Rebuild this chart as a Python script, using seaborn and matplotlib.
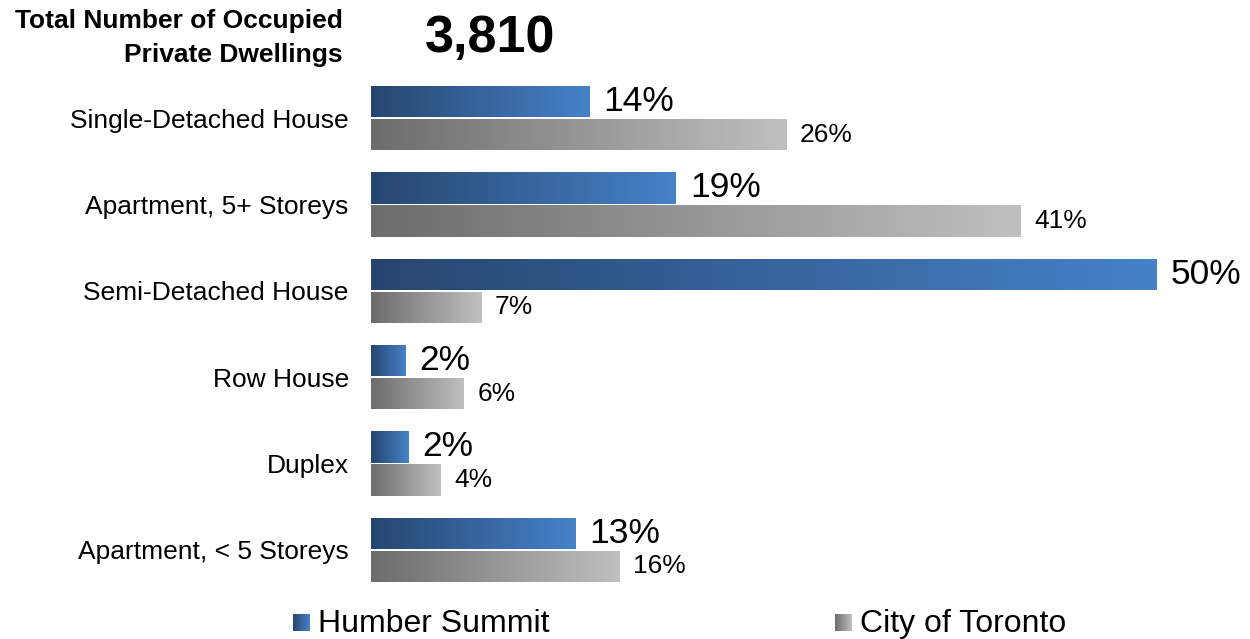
import numpy as np
import pandas as pd
import matplotlib
matplotlib.use("Agg")
import matplotlib.pyplot as plt
from matplotlib.colors import LinearSegmentedColormap
import seaborn as sns

categories = ["Single-Detached House", "Apartment, 5+ Storeys", "Semi-Detached House",
              "Row House", "Duplex", "Apartment, < 5 Storeys"]
humber_values = [13.9, 19.4, 50.0, 2.2, 2.4, 13.0]
toronto_values = [26.4, 41.3, 7.0, 5.9, 4.4, 15.8]
series_names = ["Humber Summit", "City of Toronto"]
title_text = "Total Number of Occupied\nPrivate Dwellings"
total_text = "3,810"

df = pd.DataFrame({
    "category": categories * 2,
    "region": [series_names[0]] * len(categories) + [series_names[1]] * len(categories),
    "value": humber_values + toronto_values,
})

sns.set_theme(style="white")
plt.rcParams["font.family"] = ["Liberation Sans", "DejaVu Sans"]
plt.rcParams["text.color"] = "black"
plt.rcParams["ytick.color"] = "black"
plt.rcParams["axes.labelcolor"] = "black"

blue_cmap = LinearSegmentedColormap.from_list("b", ["#26466F", "#4682C8"])
gray_cmap = LinearSegmentedColormap.from_list("g", ["#6C6C6C", "#C0C0C0"])
palette = {series_names[0]: "#3A66A0", series_names[1]: "#999999"}

fig = plt.figure(figsize=(12.5, 6.39), dpi=100)
ax = fig.add_axes([371 / 1250, (639 - 593) / 639, 786 / 1250, 518 / 639])

sns.barplot(data=df, y="category", x="value", hue="region", hue_order=series_names,
            order=categories, palette=palette, orient="h", width=0.765, gap=0.06,
            legend=False, ax=ax)

ax.set_xlim(0, 50)
ax.set_ylim(5.5, -0.5)
grad = np.linspace(0, 1, 256).reshape(1, -1)
for i, cont in enumerate(ax.containers):
    cmap = blue_cmap if i == 0 else gray_cmap
    for p in cont.patches:
        x, y = p.get_x(), p.get_y()
        w, h = p.get_width(), p.get_height()
        im = ax.imshow(grad, cmap=cmap, aspect="auto", extent=[x, x + w, y + h, y],
                       interpolation="bicubic", zorder=2)
        im.set_clip_path(p)
        p.set_facecolor("none")
        p.set_edgecolor("none")
ax.set_xlim(0, 50)
ax.set_ylim(5.5, -0.5)

ax.bar_label(ax.containers[0], labels=[f"{v:.0f}%" for v in humber_values],
             padding=10, fontsize=25.5, color="black", clip_on=False)
ax.bar_label(ax.containers[1], labels=[f"{v:.0f}%" for v in toronto_values],
             padding=10, fontsize=19, color="black", clip_on=False)

ax.set_xlabel("")
ax.set_ylabel("")
ax.set_xticks([])
ax.tick_params(axis="y", length=0, pad=16, labelsize=19, labelcolor="black")
for s in ax.spines.values():
    s.set_visible(False)

fig.text(343 / 1250, 1 - 38 / 639, title_text, ha="right", va="center",
         fontsize=19, fontweight="bold", linespacing=1.5, color="black")
fig.text(490 / 1250, 1 - 38 / 639, total_text, ha="center", va="center",
         fontsize=37.5, fontweight="bold", color="black")

# legend
legend_items = [(293, series_names[0], blue_cmap), (835, series_names[1], gray_cmap)]
for xpx, name, cmap in legend_items:
    sax = fig.add_axes([xpx / 1250, (639 - 631) / 639, 17 / 1250, 17 / 639])
    sax.imshow(grad, cmap=cmap, aspect="auto", interpolation="bicubic")
    sax.set_axis_off()
    fig.text((xpx + 25) / 1250, 1 - 624 / 639, name, ha="left", va="center",
             fontsize=23, color="black")

fig.savefig("out.png", dpi=100)
